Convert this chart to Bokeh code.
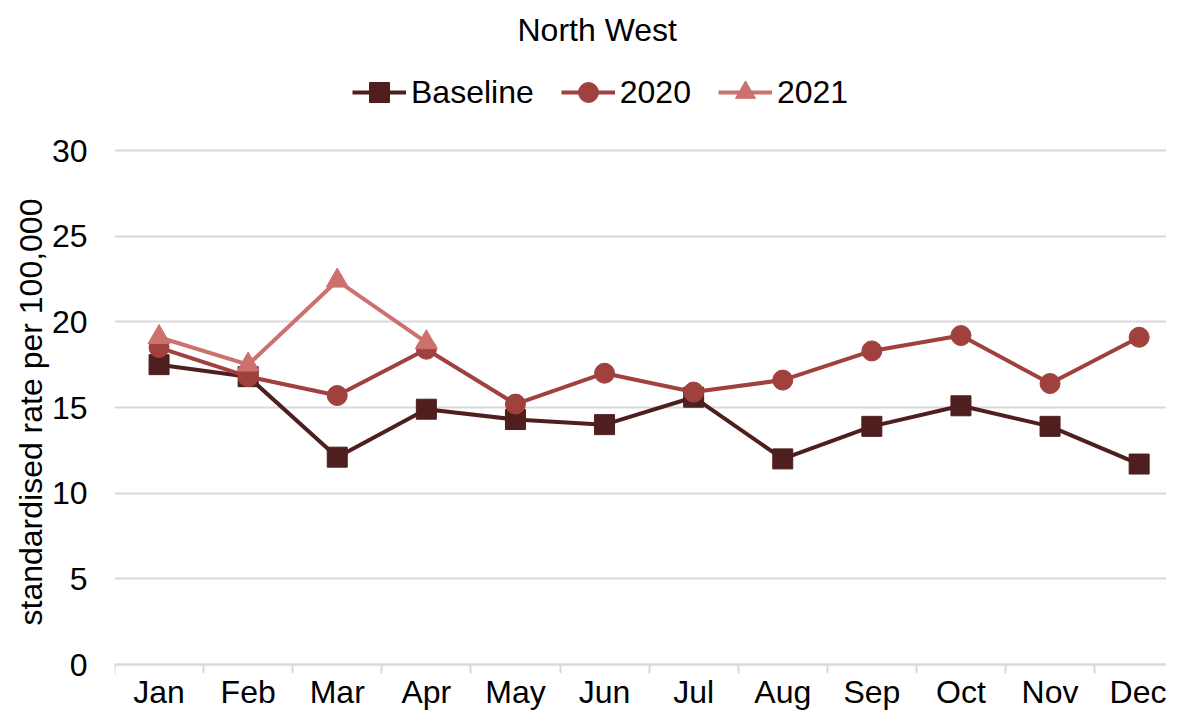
from bokeh.plotting import figure
from bokeh.models import FixedTicker, Legend, LegendItem, Range1d, Title
from bokeh.embed import file_html
from bokeh.resources import INLINE

months = ["Jan", "Feb", "Mar", "Apr", "May", "Jun", "Jul", "Aug", "Sep", "Oct", "Nov", "Dec"]
baseline = [17.5, 16.8, 12.1, 14.9, 14.3, 14.0, 15.6, 12.0, 13.9, 15.1, 13.9, 11.7]
y2020 = [18.5, 16.8, 15.7, 18.4, 15.2, 17.0, 15.9, 16.6, 18.3, 19.2, 16.4, 19.1]
y2021 = [19.1, 17.5, 22.4, 18.8]
y_ticks = [0, 5, 10, 15, 20, 25, 30]

FONT = "Liberation Sans"
FS = "32px"
GRID = "#d9d9d9"
C_BASE = "#4f1f1f"
C_2020 = "#a0413d"
C_2021 = "#cc716d"

# layout (figure pixels)
W, H = 1166, 710
LEFT, TOP = 114, 52
AXIS_Y, TOP30_Y = 664, 150           # where 0 and 30 sit
CAT_W = 89.1                         # pixel width of one month slot
PX_PER_UNIT = (AXIS_Y - TOP30_Y) / (y_ticks[-1] - y_ticks[0])
Y_START = y_ticks[0] - (H - AXIS_Y) / PX_PER_UNIT
Y_END = y_ticks[-1] + (TOP30_Y - TOP) / PX_PER_UNIT
X_END = 0.5 + (W - LEFT) / CAT_W
LEGEND_X, LEGEND_CY, LEGEND_GH = 352, 92, 50
TITLE_X = 517
YLABEL_BOTTOM = 625

xs = list(range(1, len(months) + 1))
xs21 = xs[:len(y2021)]

p = figure(width=W, height=H, output_backend="svg", toolbar_location=None,
           x_range=Range1d(0.5, X_END), y_range=Range1d(Y_START, Y_END),
           min_border_left=LEFT, min_border_right=0, min_border_bottom=0, min_border_top=TOP)
p.outline_line_color = None

p.title.text = "North West"
p.title.align = "left"
p.title.offset = TITLE_X - LEFT
p.title.text_font = FONT
p.title.text_font_size = FS
p.title.text_font_style = "normal"
p.title.text_color = "#000000"

r_b_l = p.line(xs, baseline, line_color=C_BASE, line_width=4)
r_b_m = p.scatter(xs, baseline, marker="square", size=20, fill_color=C_BASE, line_color=C_BASE)
r_0_l = p.line(xs, y2020, line_color=C_2020, line_width=4)
r_0_m = p.scatter(xs, y2020, marker="circle", size=20, fill_color=C_2020, line_color=C_2020)
r_1_l = p.line(xs21, y2021, line_color=C_2021, line_width=4)
r_1_m = p.scatter(xs21, y2021, marker="triangle", size=22, fill_color=C_2021, line_color=C_2021)

p.xaxis.fixed_location = y_ticks[0]
p.xaxis.ticker = FixedTicker(ticks=xs, minor_ticks=[x - 0.5 for x in xs] + [xs[-1] + 0.5])
p.xaxis.major_label_overrides = {x: m for x, m in zip(xs, months)}
p.xaxis.major_tick_out = 0
p.xaxis.major_tick_in = 0
p.xaxis.minor_tick_out = 9
p.xaxis.minor_tick_in = 0
p.xaxis.minor_tick_line_color = GRID
p.xaxis.minor_tick_line_width = 2
p.xaxis.axis_line_color = GRID
p.xaxis.axis_line_width = 2
p.xaxis.major_label_text_font = FONT
p.xaxis.major_label_text_font_size = FS
p.xaxis.major_label_text_color = "#000000"
p.xaxis.major_label_standoff = 0

p.yaxis.ticker = FixedTicker(ticks=y_ticks)
p.yaxis.axis_line_color = None
p.yaxis.major_tick_out = 0
p.yaxis.major_tick_in = 0
p.yaxis.minor_tick_line_color = None
p.yaxis.major_label_text_font = FONT
p.yaxis.major_label_text_font_size = FS
p.yaxis.major_label_text_color = "#000000"
p.yaxis.major_label_standoff = 27

ytitle = Title(text="standardised rate per 100,000", align="left", offset=H - YLABEL_BOTTOM,
               text_font=FONT, text_font_size=FS, text_font_style="normal",
               text_color="#000000", standoff=0)
p.add_layout(ytitle, "left")

p.xgrid.visible = False
p.ygrid.grid_line_color = GRID
p.ygrid.grid_line_width = 2

legend = Legend(items=[
    LegendItem(label="Baseline", renderers=[r_b_l, r_b_m]),
    LegendItem(label="2020", renderers=[r_0_l, r_0_m]),
    LegendItem(label="2021", renderers=[r_1_l, r_1_m]),
], orientation="horizontal",
   location=(LEGEND_X - LEFT, H - (LEGEND_CY + LEGEND_GH / 2)))
legend.border_line_color = None
legend.background_fill_alpha = 0
legend.label_text_font = FONT
legend.label_text_font_size = FS
legend.label_text_color = "#000000"
legend.glyph_width = 54
legend.glyph_height = LEGEND_GH
legend.label_standoff = 5
legend.spacing = 27
legend.padding = 0
legend.margin = 0
p.add_layout(legend, "center")

open("out.html", "w").write(file_html(p, INLINE))
